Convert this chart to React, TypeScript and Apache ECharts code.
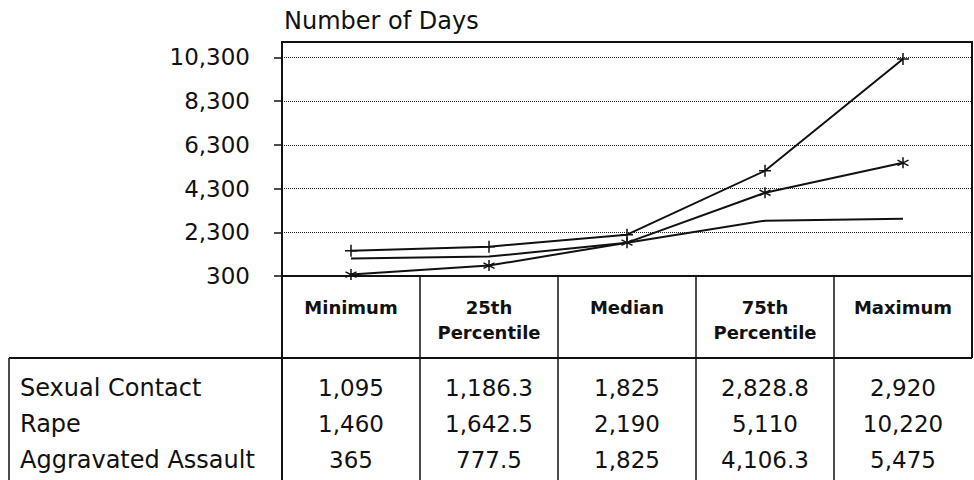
import React, { useEffect, useRef } from "react";
import * as echarts from "echarts";

const categories = ["Minimum", "25th\nPercentile", "Median", "75th\nPercentile", "Maximum"];
const seriesNames = ["Sexual Contact", "Rape", "Aggravated Assault"];
const sexualContact = [1095, 1186.3, 1825, 2828.8, 2920];
const rape = [1460, 1642.5, 2190, 5110, 10220];
const aggravatedAssault = [365, 777.5, 1825, 4106.3, 5475];
const tableText = [
  ["1,095", "1,186.3", "1,825", "2,828.8", "2,920"],
  ["1,460", "1,642.5", "2,190", "5,110", "10,220"],
  ["365", "777.5", "1,825", "4,106.3", "5,475"],
];
const yTicks = [300, 2300, 4300, 6300, 8300, 10300];

const W = 974;
const H = 480;
const GL = 282;
const GR = 972;
const GT = 42;
const GB = 276;
const HEADER_BOTTOM = 358;
const TABLE_LEFT = 9;
const ROW_Y = [388, 424, 460];
const FONT = "DejaVu Sans";
const INK = "#111";

export default function App() {
  const ref = useRef<HTMLDivElement>(null);
  useEffect(() => {
    if (!ref.current) return;
    const chart = echarts.init(ref.current, undefined, { renderer: "svg" });
    const band = (GR - GL) / categories.length;
    const graphics: any[] = [];
    const line = (x1: number, y1: number, x2: number, y2: number, w = 2) =>
      graphics.push({
        type: "line",
        shape: { x1, y1, x2, y2 },
        style: { stroke: INK, lineWidth: w },
        silent: true,
      });
    line(GL, GB, GL, H);
    line(GR, GB, GR, HEADER_BOTTOM);
    for (let i = 1; i < categories.length; i++) {
      line(GL + band * i, GB, GL + band * i, H, 1.5);
    }
    line(TABLE_LEFT, HEADER_BOTTOM, GR, HEADER_BOTTOM);
    line(TABLE_LEFT, HEADER_BOTTOM, TABLE_LEFT, H, 1.5);
    seriesNames.forEach((name, r) => {
      graphics.push({
        type: "text",
        x: 20,
        y: ROW_Y[r],
        style: {
          text: name,
          font: `24px "${FONT}"`,
          fill: INK,
          textAlign: "left",
          textVerticalAlign: "middle",
        },
      });
      tableText[r].forEach((t, c) => {
        graphics.push({
          type: "text",
          x: GL + band * (c + 0.5),
          y: ROW_Y[r],
          style: {
            text: t,
            font: `23px "${FONT}"`,
            fill: INK,
            textAlign: "center",
            textVerticalAlign: "middle",
          },
        });
      });
    });

    const plus = "path://M5,0V10M0,5H10";
    const star = "path://M5,0V10M0.7,2.5L9.3,7.5M9.3,2.5L0.7,7.5";

    chart.setOption({
      animation: false,
      title: {
        text: "Number of Days",
        left: 279,
        top: 4,
        textStyle: { fontFamily: FONT, fontSize: 24, fontWeight: "normal", color: INK },
      },
      grid: {
        left: GL,
        right: W - GR,
        top: GT,
        bottom: H - GB,
        show: true,
        borderColor: INK,
        borderWidth: 2,
        containLabel: false,
      },
      xAxis: {
        type: "category",
        data: categories,
        boundaryGap: true,
        axisLine: { lineStyle: { color: INK, width: 2 } },
        axisTick: { alignWithLabel: true, length: 9, lineStyle: { color: INK, width: 1.5 } },
        axisLabel: {
          fontFamily: FONT,
          fontWeight: "bold",
          fontSize: 18,
          lineHeight: 25,
          color: INK,
          margin: 19,
          interval: 0,
        },
        splitLine: { show: false },
      },
      yAxis: {
        type: "value",
        min: 300,
        max: 11000,
        interval: 2000,
        axisLine: { show: true, lineStyle: { color: INK, width: 2 } },
        axisTick: { show: true, length: 8, customValues: yTicks, lineStyle: { color: INK, width: 1.5 } },
        axisLabel: {
          customValues: yTicks,
          fontFamily: FONT,
          fontSize: 23,
          color: INK,
          margin: 32,
          formatter: (v: number) => (yTicks.includes(v) ? v.toLocaleString("en-US") : ""),
        },
        splitLine: { show: true, lineStyle: { color: "#222", type: [1, 1], width: 1 } },
      },
      series: [
        {
          name: seriesNames[0],
          type: "line",
          data: sexualContact,
          symbol: "none",
          lineStyle: { color: INK, width: 2 },
        },
        {
          name: seriesNames[1],
          type: "line",
          data: rape,
          symbol: plus,
          symbolSize: 12,
          itemStyle: { color: "none", borderColor: INK, borderWidth: 1.5 },
          lineStyle: { color: INK, width: 2 },
        },
        {
          name: seriesNames[2],
          type: "line",
          data: aggravatedAssault,
          symbol: star,
          symbolSize: 11,
          itemStyle: { color: "none", borderColor: INK, borderWidth: 1.5 },
          lineStyle: { color: INK, width: 2 },
        },
      ],
      graphic: graphics,
    });
    return () => chart.dispose();
  }, []);
  return (
    <div
      ref={ref}
      style={{ position: "fixed", left: 0, top: 0, width: W, height: H, background: "#fff" }}
    />
  );
}
